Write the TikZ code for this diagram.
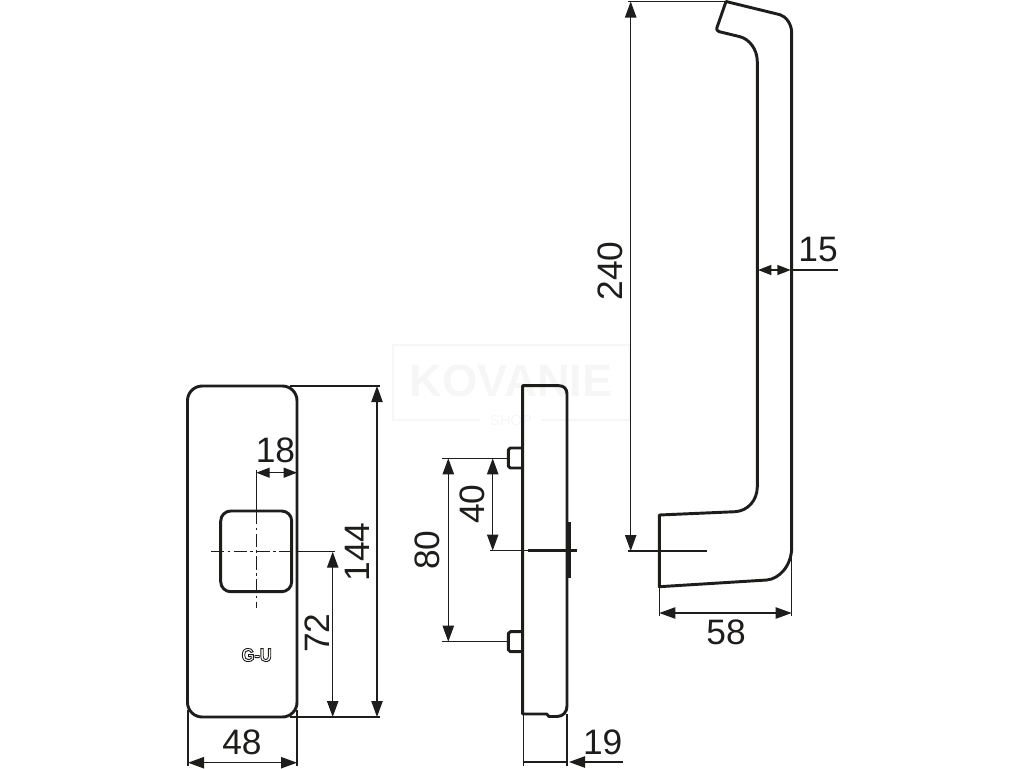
\documentclass[tikz,border=0pt]{standalone}
\usepackage{fontspec}
\setmainfont{Liberation Sans}
\usetikzlibrary{arrows.meta}
\definecolor{ink}{HTML}{1D1D1B}
\definecolor{wm}{HTML}{F6F6F6}
\tikzset{
  x=0.75pt,y=-0.75pt,
  outline/.style={draw=ink,line width=2.2pt,line join=round},
  thickline/.style={draw=ink,line width=2.2pt},
  thin/.style={draw=ink,line width=0.95pt},
  centre/.style={draw=ink,line width=0.95pt,dash pattern=on 10pt off 2.5pt on 2pt off 2.5pt},
  dimline/.style={draw=ink,line width=0.95pt,{Triangle[length=12pt,width=8.5pt]}-{Triangle[length=12pt,width=8.5pt]}},
  dimshort/.style={draw=ink,line width=0.95pt,{Triangle[length=10pt,width=7.5pt]}-{Triangle[length=10pt,width=7.5pt]}},
  dimtext/.style={text=ink,inner sep=0pt,font=\fontsize{26.5}{30}\selectfont},
  wmark/.style={draw=wm,line width=1.2pt},
}
\begin{document}
\begin{tikzpicture}
\useasboundingbox (0,0) rectangle (1024,768);
% watermark
\draw[wmark] (480,420) -- (393,420) -- (393,345) -- (630,345) -- (630,420) -- (542,420);
\node[text=wm,inner sep=0pt,font=\fontsize{34}{36}\selectfont\bfseries] (wmk) at (511,381) {KOVANIE};
\node[text=wm,inner sep=0pt,font=\fontsize{11}{12}\selectfont] (wms) at (511,420) {SHOP};
% ---------- front plate
\draw[outline,rounded corners=11pt] (187.5,386) rectangle (297,717);
\draw[outline,rounded corners=7.5pt] (220.7,511) rectangle (291.7,591.7);
\draw[centre] (211,551.7) -- (297,551.7);
\draw[thin] (297,551.7) -- (335,551.7);
\draw[thin] (256.3,470) -- (256.3,511);
\draw[centre] (256.3,511) -- (256.3,608);
\node[text=ink,inner sep=0pt,xscale=0.88,font=\fontsize{14}{15}\selectfont\bfseries] (logo) at (256.7,655) {\special{pdf:code 1 Tr 0.7 w}G-U\special{pdf:code 0 Tr}};
% dims front
\coordinate (a18) at (256.3,472.7); \coordinate (b18) at (297,472.7);
\draw[dimshort] (a18) -- (b18);
\node[dimtext] (t18) at (275.5,450) {18};
\coordinate (a72) at (332.7,551.7); \coordinate (b72) at (332.7,717);
\draw[dimline] (a72) -- (b72);
\node[dimtext,rotate=90] (t72) at (316.7,633) {72};
\coordinate (a144) at (377,386); \coordinate (b144) at (377,717);
\draw[dimline] (a144) -- (b144);
\node[dimtext,rotate=90] (t144) at (357,552) {144};
\draw[thin] (290,386) -- (380,386);
\draw[thin] (290,717) -- (380,717);
\coordinate (a48) at (188,762.7); \coordinate (b48) at (297,762.7);
\draw[dimline] (a48) -- (b48);
\node[dimtext] (t48) at (242,742) {48};
\draw[thin] (188,710) -- (188,766);
\draw[thin] (297,710) -- (297,766);
% ---------- side view
\draw[outline] (522.7,714) -- (522.7,385.7) -- (559,385.7) .. controls (564,385.7) and (567,389) .. (567,394)
  -- (567,706) .. controls (567,712) and (563,716.5) .. (557,716.5) -- (549,716.5) -- (546.7,714) -- cycle;
\draw[outline] (522.7,448) -- (510.3,448) -- (508.3,450) -- (508.3,466) -- (510.3,468) -- (522.7,468);
\draw[outline] (522.7,631.7) -- (510.3,631.7) -- (508.3,633.7) -- (508.3,649.7) -- (510.3,651.7) -- (522.7,651.7);
\fill[ink] (566,521.7) rectangle (571,578);
\draw[thin] (490,550.5) -- (528,550.5);
\draw[thickline] (528,550.5) -- (577,550.5);
\draw[thin] (441.7,458.3) -- (508,458.3);
\draw[thin] (441.7,641.7) -- (508,641.7);
\coordinate (a80) at (448.3,458.3); \coordinate (b80) at (448.3,641.7);
\draw[dimline] (a80) -- (b80);
\node[dimtext,rotate=90] (t80) at (427.7,550) {80};
\coordinate (a40) at (492.7,458.3); \coordinate (b40) at (492.7,550.5);
\draw[dimline] (a40) -- (b40);
\node[dimtext,rotate=90] (t40) at (472,504) {40};
\draw[thin] (523.5,714) -- (523.5,766);
\draw[thin] (567,714) -- (567,766);
\coordinate (a19) at (523.5,762); \coordinate (b19) at (567.5,762); \coordinate (c19) at (623,762);
\draw[thin] (a19) -- (b19);
\draw[draw=ink,line width=0.95pt,{Triangle[length=12pt,width=8.5pt]}-] (569,762) -- (c19);
\node[dimtext] (t19) at (602.7,742) {19};
% ---------- handle
\draw[outline] (726,1.5) -- (780,14.7) .. controls (786,16.5) and (791.7,24) .. (791.7,33)
  -- (791.7,547) .. controls (791.7,566) and (779,579) .. (766.7,580)
  -- (659.3,586.7) -- (659.3,515) -- (735,511.7) .. controls (748,511) and (757.3,500) .. (757.3,486.7)
  -- (757.3,61.7) .. controls (757.3,49) and (749,39) .. (740,36.7)
  -- (719.3,31.7) .. controls (717,31) and (716.3,29.5) .. (716.8,28) -- cycle;
\coordinate (a240) at (630.7,1.5); \coordinate (b240) at (630.7,551);
\draw[dimline] (a240) -- (b240);
\node[dimtext,rotate=90] (t240) at (610,271) {240};
\draw[thin] (628,1.5) -- (726,1.5);
\draw[thin] (628,551) -- (651,551);
\draw[thickline] (651,551) -- (707,551);
\coordinate (a58) at (659.3,613); \coordinate (b58) at (791.7,613);
\draw[dimline] (a58) -- (b58);
\node[dimtext] (t58) at (726,632) {58};
\draw[thin] (659.3,587) -- (659.3,616);
\draw[thin] (791.7,555) -- (791.7,616);
\coordinate (a15) at (758,270); \coordinate (b15) at (790.7,270);
\draw[dimshort] (a15) -- (b15);
\draw[thin] (791,270) -- (838,270);
\node[dimtext] (t15) at (818,250) {15};
\end{tikzpicture}
\end{document}
